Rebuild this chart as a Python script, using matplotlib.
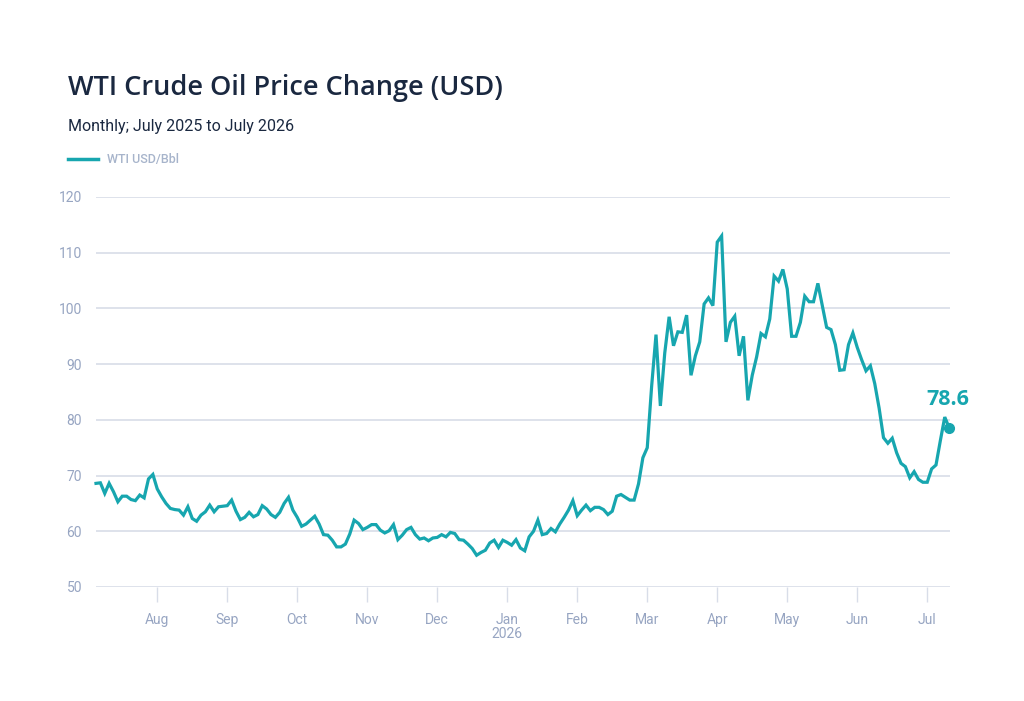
import numpy as np
import matplotlib.pyplot as plt
from matplotlib.lines import Line2D

# WTI USD/Bbl, sampled 16 points per month (months are evenly spaced on the axis)
jul_2025 = [68.6, 68.7, 66.8, 68.6, 67.1, 65.3, 66.3, 66.3, 65.7, 65.5, 66.5, 66.0, 69.4, 70.2]
aug_2025 = [67.6, 66.2, 65.0, 64.1, 63.9, 63.8, 62.9, 64.4, 62.3, 61.8, 62.9, 63.5, 64.7, 63.5, 64.4, 64.5]
sep_2025 = [64.6, 65.6, 63.6, 62.1, 62.5, 63.4, 62.6, 63.0, 64.6, 64.0, 63.0, 62.5, 63.4, 65.0, 66.1, 63.8]
oct_2025 = [62.5, 60.9, 61.3, 62.0, 62.7, 61.3, 59.4, 59.3, 58.4, 57.2, 57.2, 57.7, 59.5, 62.0, 61.4, 60.3]
nov_2025 = [60.7, 61.2, 61.2, 60.2, 59.7, 60.1, 61.2, 58.5, 59.3, 60.3, 60.7, 59.4, 58.6, 58.8, 58.3, 58.8]
dec_2025 = [58.9, 59.4, 59.0, 59.8, 59.6, 58.5, 58.4, 57.7, 56.9, 55.7, 56.2, 56.6, 57.9, 58.4, 57.1, 58.4]
jan_2026 = [58.0, 57.5, 58.5, 57.0, 56.5, 59.0, 60.0, 62.0, 59.4, 59.6, 60.5, 59.9, 61.3, 62.5, 63.8, 65.5]
feb_2026 = [62.8, 63.8, 64.7, 63.7, 64.3, 64.3, 63.9, 63.0, 63.6, 66.3, 66.6, 66.1, 65.6, 65.6, 68.5, 73.2]
mar_2026 = [75.0, 86.0, 95.3, 82.5, 92.0, 98.5, 93.3, 95.8, 95.7, 98.8, 88.0, 91.5, 94.0, 100.8, 101.9, 100.5]
apr_2026 = [111.9, 113.0, 94.0, 97.5, 98.6, 91.5, 95.0, 83.5, 88.0, 91.3, 95.5, 94.9, 98.1, 105.8, 104.9, 107.0]
may_2026 = [103.5, 95.0, 95.0, 97.5, 102.2, 101.2, 101.2, 104.5, 100.5, 96.6, 96.2, 93.5, 88.9, 89.0, 93.5, 95.6]
jun_2026 = [93.0, 90.8, 88.8, 89.7, 86.5, 82.1, 76.8, 75.8, 76.7, 74.1, 72.2, 71.6, 69.6, 70.7, 69.3, 68.8]
jul_2026 = [68.8, 71.2, 71.9, 76.3, 80.5, 78.6]

month_labels = ["Aug", "Sep", "Oct", "Nov", "Dec", "Jan\n2026", "Feb", "Mar", "Apr", "May", "Jun", "Jul"]
y_ticks = [50, 60, 70, 80, 90, 100, 110, 120]
pts_per_month = 16

prices = np.array(jul_2025 + aug_2025 + sep_2025 + oct_2025 + nov_2025 + dec_2025
                  + jan_2026 + feb_2026 + mar_2026 + apr_2026 + may_2026 + jun_2026 + jul_2026)
x = 1 - len(jul_2025) / pts_per_month + np.arange(len(prices)) / pts_per_month

LINE = "#17A6AF"
GRID = "#D8DDE8"
TICK = "#97A5C2"
DARK = "#1A2840"

fig = plt.figure(figsize=(10.24, 7.01), dpi=100)
ax = fig.add_axes([96 / 1024, 1 - 587 / 701, 854 / 1024, 390 / 701])

ax.plot(x, prices, color=LINE, lw=2.3, solid_joinstyle="miter", clip_on=False, zorder=3)
ax.plot(x[-1], prices[-1], "o", color=LINE, ms=7, clip_on=False, zorder=4)
ax.annotate(f"{prices[-1]:.1f}", (x[-1], prices[-1]), xytext=(-1, 13), textcoords="offset points",
            ha="center", va="bottom", color=LINE, fontsize=15.5, fontweight="bold",
            family="Open Sans", annotation_clip=False)

ax.set_xlim(x[0], x[0] + 854 / 70)
ax.set_ylim(50, 120)
ax.set_yticks(y_ticks)
ax.set_xticks(np.arange(1, 13))
ax.set_xticklabels(month_labels, linespacing=1.0)
ax.grid(axis="y", color=GRID, lw=1.2)
ax.set_axisbelow(True)
for s in ax.spines.values():
    s.set_visible(False)
ax.tick_params(axis="y", length=0, pad=10, labelcolor=TICK, labelsize=10)
ax.tick_params(axis="x", length=11, width=1, color=GRID, pad=8, labelcolor=TICK, labelsize=10)
for lbl in ax.get_xticklabels() + ax.get_yticklabels():
    lbl.set_family("Roboto")

fig.text(68 / 1024, 1 - 88 / 701, "WTI Crude Oil Price Change (USD)", family="Open Sans",
         fontsize=19.5, fontweight="semibold", color=DARK, va="center", ha="left")
fig.text(68 / 1024, 1 - 126 / 701, "Monthly; July 2025 to July 2026", family="Roboto",
         fontsize=11.5, color=DARK, va="center", ha="left")
fig.add_artist(Line2D([68 / 1024, 98 / 1024], [1 - 159 / 701] * 2, color=LINE, lw=2.5))
fig.text(107 / 1024, 1 - 159 / 701, "WTI USD/Bbl", family="Roboto", fontsize=9,
         fontweight="medium", color="#A7B4CB", va="center", ha="left")

fig.savefig("out.png", dpi=100, facecolor="white")
